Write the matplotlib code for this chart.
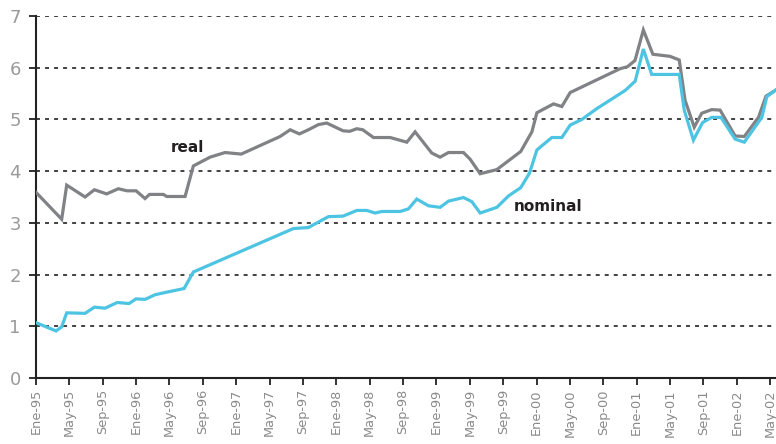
import matplotlib
matplotlib.use("Agg")
import matplotlib.pyplot as plt

# month index (0 = Ene-95)
real_x = [0.0, 3.08, 3.68, 5.88, 7.0, 8.47, 9.87, 10.9, 12.0, 13.07, 13.6, 15.27, 15.67, 17.87,
          18.86, 20.86, 22.66, 24.6, 29.26, 30.46, 31.57, 32.65, 33.85, 34.85, 36.8, 37.6, 38.45,
          39.17, 40.45, 42.45, 44.45, 45.44, 47.44, 48.44, 49.44, 51.24, 52.04, 53.24, 55.24,
          58.1, 59.44, 60.04, 62.03, 63.03, 64.03, 70.0, 70.9, 71.8, 72.8, 73.94, 76.0, 77.1,
          77.8, 78.9, 79.8, 81.0, 82.0, 83.8, 84.9, 86.6, 87.5, 88.7]
real_y = [3.59, 3.07, 3.73, 3.50, 3.64, 3.56, 3.66, 3.62, 3.62, 3.47, 3.55, 3.55, 3.51, 3.51,
          4.10, 4.27, 4.36, 4.33, 4.67, 4.80, 4.72, 4.80, 4.90, 4.93, 4.78, 4.77, 4.82,
          4.80, 4.65, 4.65, 4.56, 4.76, 4.35, 4.27, 4.36, 4.36, 4.23, 3.95, 4.03,
          4.38, 4.76, 5.13, 5.30, 5.25, 5.52, 5.98, 6.02, 6.14, 6.73, 6.26, 6.22, 6.15,
          5.37, 4.85, 5.12, 5.19, 5.18, 4.68, 4.67, 5.04, 5.45, 5.57]

nom_x = [0.0, 2.4, 3.08, 3.68, 5.88, 7.0, 8.27, 9.75, 11.15, 12.0, 13.07, 14.27, 15.67, 17.75,
         18.86, 30.86, 32.65, 35.05, 36.8, 38.45, 39.65, 40.65, 41.45, 43.65, 44.64, 45.64,
         47.04, 48.44, 49.44, 51.24, 52.24, 53.24, 55.24, 56.63, 58.1, 59.15, 60.04, 61.83,
         63.03, 64.03, 65.43, 67.23, 70.62, 71.82, 72.8, 73.8, 77.1, 77.7, 78.8, 79.9, 81.0,
         82.1, 83.8, 84.9, 87.0, 87.6, 88.7]
nom_y = [1.07, 0.91, 0.99, 1.26, 1.25, 1.37, 1.35, 1.46, 1.44, 1.53, 1.52, 1.61, 1.66, 1.73,
         2.05, 2.89, 2.91, 3.12, 3.13, 3.24, 3.24, 3.19, 3.22, 3.22, 3.27, 3.46,
         3.33, 3.30, 3.42, 3.49, 3.41, 3.19, 3.30, 3.52, 3.68, 3.96, 4.41, 4.65,
         4.65, 4.89, 5.00, 5.21, 5.56, 5.74, 6.36, 5.87, 5.87, 5.18, 4.60, 4.94, 5.04,
         5.04, 4.62, 4.56, 5.04, 5.44, 5.57]

tick_pos = list(range(0, 89, 4))
tick_labels = ["Ene-95", "May-95", "Sep-95", "Ene-96", "May-96", "Sep-96", "Ene-97", "May-97",
               "Sep-97", "Ene-98", "May-98", "Sep-98", "Ene-99", "May-99", "Sep-99", "Ene-00",
               "May-00", "Sep-00", "Ene-01", "May-01", "Sep-01", "Ene-02", "May-02"]

fig = plt.figure(figsize=(7.76, 4.44), dpi=100)
ax = fig.add_axes([36 / 776, 1 - 378 / 444, 740 / 776, (378 - 16) / 444])

for yv in range(1, 8):
    ax.axhline(yv, color="#333333", lw=1.3, ls=(0, (2.2, 2.8)), zorder=1)

ax.plot(real_x, real_y, color="#808285", lw=2.3, zorder=3, solid_joinstyle="miter")
ax.plot(nom_x, nom_y, color="#4cc4e2", lw=2.3, zorder=3, solid_joinstyle="miter")

ax.text(18.2, 4.45, "real", fontsize=11, fontweight="bold", color="#231f20",
        ha="center", va="center")
ax.text(61.4, 3.31, "nominal", fontsize=11, fontweight="bold", color="#231f20",
        ha="center", va="center")

ax.set_xlim(0, 88.7)
ax.set_ylim(0, 7)
ax.set_xticks(tick_pos)
ax.set_xticklabels(tick_labels, rotation=90, fontsize=9.3, color="#8a8a8a")
ax.set_yticks(range(0, 8))
ax.set_yticklabels([str(v) for v in range(0, 8)], fontsize=13, color="#9a9a9a")
ax.tick_params(axis="both", direction="out", length=5, width=1.3, color="#222222")
ax.tick_params(axis="y", pad=6)
ax.tick_params(axis="x", pad=3)
for s in ["top", "right"]:
    ax.spines[s].set_visible(False)
for s in ["left", "bottom"]:
    ax.spines[s].set_linewidth(1.5)
    ax.spines[s].set_color("#222222")

fig.savefig("out.png", dpi=100)
